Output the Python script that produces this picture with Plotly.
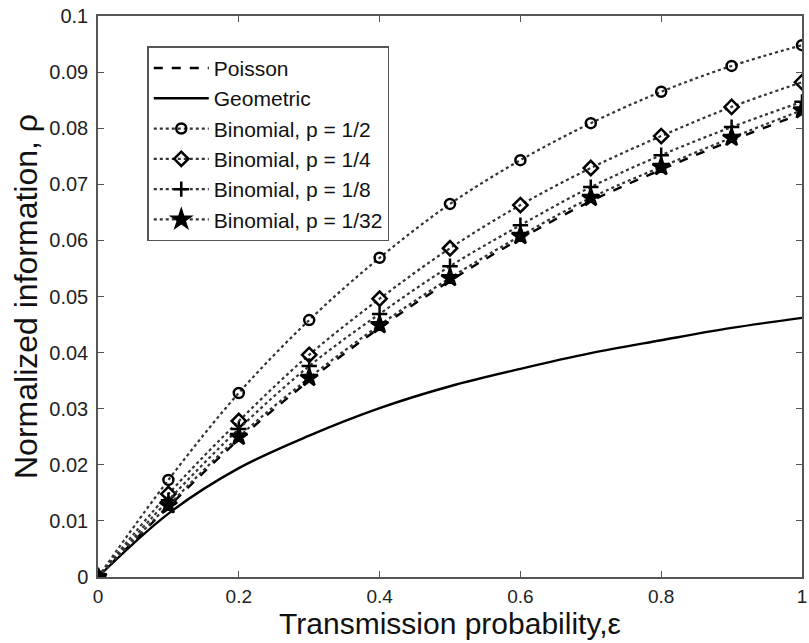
import plotly.graph_objects as go

eps = [0, 0.1, 0.2, 0.3, 0.4, 0.5, 0.6, 0.7, 0.8, 0.9, 1.0]
poisson = [0, 0.0125, 0.0245, 0.0350, 0.0444, 0.0528, 0.0603, 0.0670, 0.0726, 0.0778, 0.0826]
geometric = [0, 0.0113, 0.0194, 0.0252, 0.0301, 0.0340, 0.0371, 0.0399, 0.0422, 0.0444, 0.0462]
binom_half = [0, 0.0173, 0.0328, 0.0458, 0.0569, 0.0665, 0.0743, 0.0809, 0.0865, 0.0911, 0.0948]
binom_quarter = [0, 0.0148, 0.0278, 0.0396, 0.0496, 0.0586, 0.0663, 0.0729, 0.0786, 0.0838, 0.0882]
binom_eighth = [0, 0.0137, 0.0264, 0.0376, 0.0469, 0.0554, 0.0627, 0.0695, 0.0752, 0.0802, 0.0847]
binom_32 = [0, 0.0128, 0.0250, 0.0355, 0.0449, 0.0533, 0.0608, 0.0676, 0.0731, 0.0783, 0.0832]

x_ticks = [0, 0.2, 0.4, 0.6, 0.8, 1]
x_labels = ["0", "0.2", "0.4", "0.6", "0.8", "1"]
y_ticks = [0, 0.01, 0.02, 0.03, 0.04, 0.05, 0.06, 0.07, 0.08, 0.09, 0.1]
y_labels = ["0", "0.01", "0.02", "0.03", "0.04", "0.05", "0.06", "0.07", "0.08", "0.09", "0.1"]

FONT = "Liberation Sans, Arial, Helvetica"

fig = go.Figure()
fig.add_trace(go.Scatter(x=eps, y=poisson, mode="lines", name="Poisson",
                         line=dict(color="black", width=2.4, dash="dash", shape="spline")))
fig.add_trace(go.Scatter(x=eps, y=geometric, mode="lines", name="Geometric",
                         line=dict(color="black", width=2.4, shape="spline")))
series = [
    (binom_half, "Binomial, p = 1/2", "circle-open", 10),
    (binom_quarter, "Binomial, p = 1/4", "diamond-open", 11),
    (binom_eighth, "Binomial, p = 1/8", "cross-thin-open", 11),
    (binom_32, "Binomial, p = 1/32", "star", 13),
]
for ys, nm, sym, sz in series:
    fig.add_trace(go.Scatter(x=eps, y=ys, mode="lines+markers", name=nm,
                             line=dict(color="#333333", width=2.2, dash="dot", shape="spline"),
                             marker=dict(symbol=sym, size=sz, color="black",
                                         line=dict(color="black", width=2.5))))

axis_common = dict(showgrid=False, zeroline=False, showline=True, mirror="ticks",
                   linecolor="#555555", linewidth=1.5, ticks="inside", ticklen=6,
                   tickcolor="#555555", automargin=False)
fig.update_xaxes(range=[0, 1], tickvals=x_ticks, ticktext=x_labels, ticklabelstandoff=1,
                 tickfont=dict(family=FONT, size=19, color="#222222"),
                 title=dict(text="Transmission probability,ε", font=dict(family=FONT, size=30, color="#111111"), standoff=2),
                 **axis_common)
fig.update_yaxes(range=[0, 0.1], tickvals=y_ticks, ticktext=y_labels, ticklabelstandoff=4,
                 tickfont=dict(family=FONT, size=20, color="#222222"),
                 title=dict(text="Normalized information, ρ", font=dict(family=FONT, size=32, color="#111111"), standoff=2),
                 **axis_common)

fig.update_layout(
    width=809, height=643,
    margin=dict(l=98, r=7, t=16, b=66),
    plot_bgcolor="white", paper_bgcolor="white",
    font=dict(family=FONT, color="#111111"),
    legend=dict(x=0.07, y=0.946, xanchor="left", yanchor="top",
                bordercolor="#555555", borderwidth=1.5, bgcolor="white",
                font=dict(size=21, family=FONT),
                itemwidth=55, tracegroupgap=0),
)

fig.write_html("out.html", config={"displayModeBar": False},
               post_script="document.body.style.margin='0';document.body.style.overflow='hidden';")
